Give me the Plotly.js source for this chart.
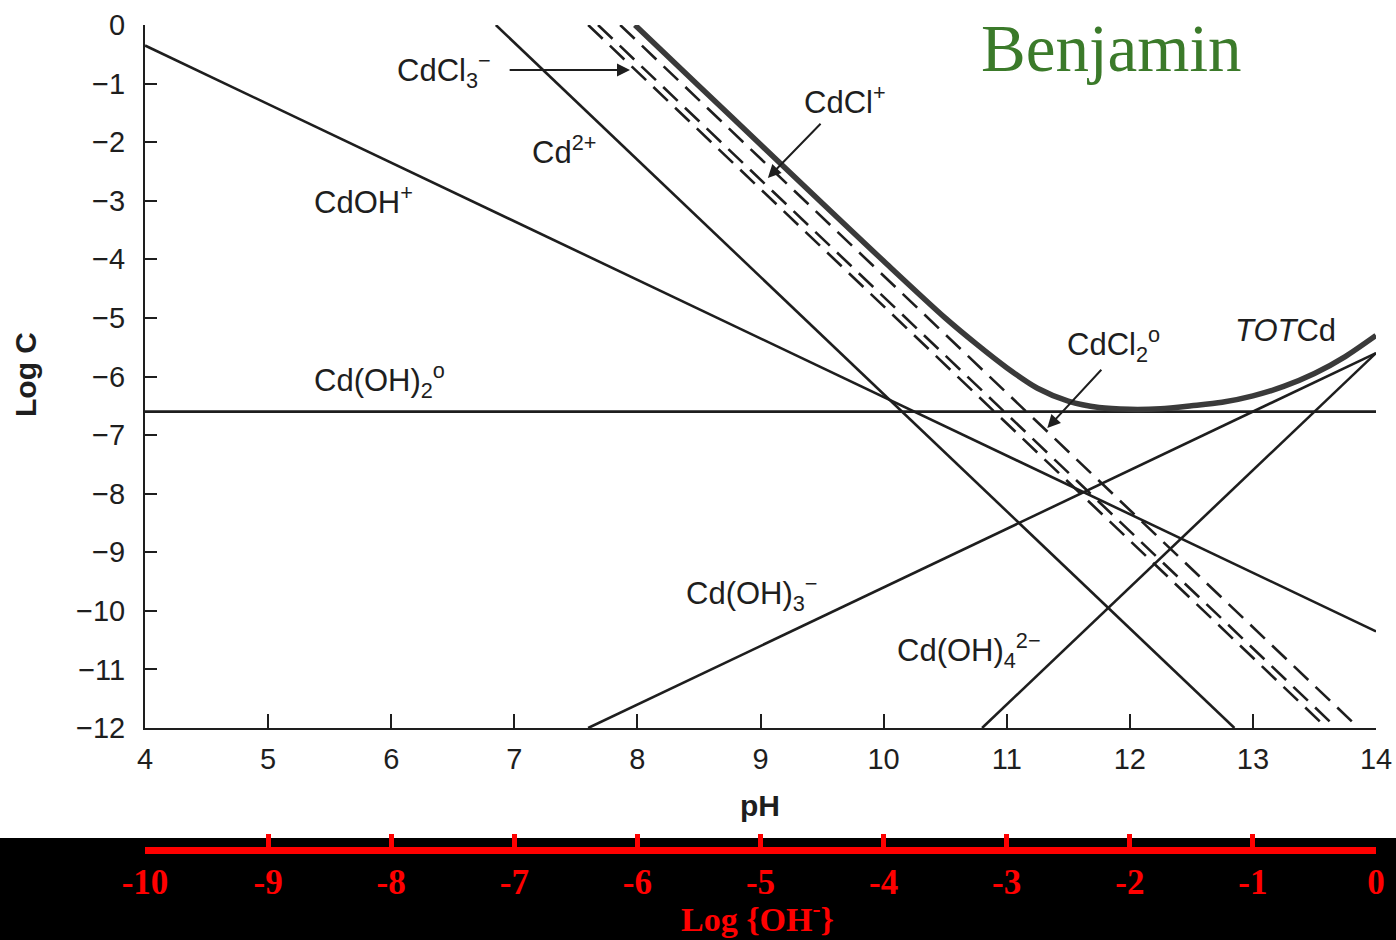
<!DOCTYPE html>
<html>
<head>
<meta charset="utf-8">
<script src="https://cdn.plot.ly/plotly-3.0.1.min.js"></script>
<style>html,body{margin:0;padding:0;background:#fff;}#chart{width:1396px;height:940px;}</style>
</head>
<body>
<div id="chart"></div>
<script>
// ---- axis ticks ----
const pHTicks = [4, 5, 6, 7, 8, 9, 10, 11, 12, 13, 14];
const logCTicks = [0, -1, -2, -3, -4, -5, -6, -7, -8, -9, -10, -11, -12];
const logOHTicks = [-10, -9, -8, -7, -6, -5, -4, -3, -2, -1, 0];
const logOHLabels = ['-10', '-9', '-8', '-7', '-6', '-5', '-4', '-3', '-2', '-1', '0'];

// ---- species lines (pH, log C) ----
const cdOH_pH = [4, 14];        const cdOH_logC = [-0.35, -10.35];
const cd2_pH = [6.85, 12.85];   const cd2_logC = [0, -12];
const cdOH2_pH = [4, 14];       const cdOH2_logC = [-6.6, -6.6];
const cdOH3_pH = [7.6, 14];     const cdOH3_logC = [-12, -5.6];
const cdOH4_pH = [10.8, 14];    const cdOH4_logC = [-12, -5.6];
const cdCl3_pH = [7.6, 13.6];   const cdCl3_logC = [0, -12];
const cdCl2_pH = [7.68, 13.68]; const cdCl2_logC = [0, -12];
const cdCl_pH = [7.86, 13.86];  const cdCl_logC = [0, -12];
const totCd_pH = [7.98, 8.5, 9, 9.5, 10, 10.5, 10.75, 11, 11.25, 11.5, 11.75, 12, 12.25, 12.5, 12.75, 13, 13.25, 13.5, 13.75, 14];
const totCd_logC = [0, -1.04, -2.04, -3.04, -4.03, -5.0, -5.44, -5.85, -6.2, -6.42, -6.53, -6.56, -6.55, -6.5, -6.44, -6.33, -6.17, -5.95, -5.66, -5.3];

const ink = '#1e1e1e';
const solid = {color: ink, width: 2.6};
const dashed = {color: ink, width: 2.6, dash: '20px,10px'};

function tr(x, y, line, name) {
  return {x: x, y: y, mode: 'lines', line: line, name: name, hoverinfo: 'skip', showlegend: false};
}

const traces = [
  tr(cdOH_pH, cdOH_logC, solid, 'CdOH+'),
  tr(cd2_pH, cd2_logC, solid, 'Cd2+'),
  tr(cdOH2_pH, cdOH2_logC, solid, 'Cd(OH)2'),
  tr(cdOH3_pH, cdOH3_logC, solid, 'Cd(OH)3-'),
  tr(cdOH4_pH, cdOH4_logC, solid, 'Cd(OH)4 2-'),
  tr(cdCl3_pH, cdCl3_logC, dashed, 'CdCl3-'),
  tr(cdCl2_pH, cdCl2_logC, dashed, 'CdCl2'),
  tr(cdCl_pH, cdCl_logC, dashed, 'CdCl+'),
  tr(totCd_pH, totCd_logC, {color: '#3a3a3a', width: 5.5, shape: 'spline', smoothing: 0.8}, 'TOT Cd'),
  {x: [logOHTicks[0], logOHTicks[logOHTicks.length - 1]], y: [-6.6, -6.6], xaxis: 'x2', yaxis: 'y',
   mode: 'lines', line: {width: 0, color: 'rgba(0,0,0,0)'}, hoverinfo: 'skip', showlegend: false}
];

const lblFont = {family: 'Liberation Sans, Arial, sans-serif', size: 31, color: ink};
function lbl(text, x, y) {
  return {text: text, x: x, y: y, xref: 'x', yref: 'y', xanchor: 'left', yanchor: 'middle',
          showarrow: false, font: lblFont};
}
function arrow(x0, y0, x1, y1, head) {
  return {text: '', x: x1, y: y1, ax: x0, ay: y0, xref: 'x', yref: 'y', axref: 'x', ayref: 'y',
          showarrow: true, arrowhead: head, arrowsize: 1.3, arrowwidth: 2, arrowcolor: ink};
}

const annotations = [
  lbl('CdCl<sub>3</sub><sup>\u2212</sup>', 6.03, -0.77),
  lbl('Cd<sup>2+</sup>', 7.13, -2.13),
  lbl('CdOH<sup>+</sup>', 5.36, -2.99),
  lbl('Cd(OH)<sub>2</sub><sup>o</sup>', 5.36, -6.06),
  lbl('CdCl<sup>+</sup>', 9.34, -1.28),
  lbl('CdCl<sub>2</sub><sup>o</sup>', 11.47, -5.46),
  lbl('<i>TOT</i>Cd', 12.84, -5.21),
  lbl('Cd(OH)<sub>3</sub><sup>\u2212</sup>', 8.38, -9.70),
  lbl('Cd(OH)<sub>4</sub><sup>2\u2212</sup>', 10.09, -10.67),
  arrow(6.95, -0.77, 7.94, -0.77, 2),
  arrow(9.50, -1.66, 9.06, -2.61, 2),
  arrow(11.78, -5.86, 11.33, -6.88, 2),
  {text: '<b>pH</b>', xref: 'paper', yref: 'paper', x: (760 - 145) / 1231, y: (940 - 805) / 915,
   xanchor: 'center', yanchor: 'middle', showarrow: false,
   font: {family: 'Liberation Sans, Arial, sans-serif', size: 30, color: ink}},
  {text: '<b>Log C</b>', xref: 'paper', yref: 'paper', x: (25 - 145) / 1231, y: (940 - 375) / 915,
   xanchor: 'center', yanchor: 'middle', textangle: -90, showarrow: false,
   font: {family: 'Liberation Sans, Arial, sans-serif', size: 30, color: ink}},
  {text: '<b>Log {OH<sup>-</sup>}</b>', xref: 'paper', yref: 'paper', x: (757 - 145) / 1231, y: (940 - 917) / 915,
   xanchor: 'center', yanchor: 'middle', showarrow: false,
   font: {family: 'Liberation Serif, Times New Roman, serif', size: 34, color: '#ff0000'}},
  {text: 'Benjamin', xref: 'paper', yref: 'paper', x: (979 - 145) / 1231, y: (940 - 48) / 915,
   xanchor: 'left', yanchor: 'middle', showarrow: false,
   font: {family: 'Liberation Serif, Times New Roman, serif', size: 67, color: '#3b7a2a'}}
];

const layout = {
  width: 1396, height: 940,
  margin: {l: 145, r: 20, t: 25, b: 0, pad: 0},
  paper_bgcolor: '#ffffff', plot_bgcolor: '#ffffff',
  showlegend: false,
  xaxis: {
    range: [4, 14], anchor: 'y', showgrid: false, zeroline: false,
    showline: true, linecolor: ink, linewidth: 2,
    ticks: 'inside', ticklen: 14, tickwidth: 2, tickcolor: ink,
    tickvals: pHTicks, ticktext: pHTicks.map(String), ticklabelstandoff: 4,
    tickfont: {family: 'Liberation Sans, Arial, sans-serif', size: 29, color: ink}
  },
  yaxis: {
    range: [-12, 0], domain: [(940 - 728) / 915, 1], showgrid: false, zeroline: false,
    showline: true, linecolor: ink, linewidth: 2,
    ticks: 'inside', ticklen: 12, tickwidth: 2, tickcolor: ink,
    tickvals: logCTicks, ticklabelstandoff: 12,
    tickfont: {family: 'Liberation Sans, Arial, sans-serif', size: 29, color: ink}
  },
  xaxis2: {
    range: [-10, 0], overlaying: 'x', anchor: 'free', position: (940 - 850) / 915, side: 'bottom',
    showgrid: false, zeroline: false,
    showline: true, linecolor: '#ff0000', linewidth: 7,
    ticks: 'inside', ticklen: 13, tickwidth: 5, tickcolor: '#ff0000',
    tickvals: logOHTicks, ticktext: logOHLabels, ticklabelstandoff: -2,
    tickfont: {family: 'Liberation Serif, Times New Roman, serif', size: 35, color: '#ff0000', weight: 'bold'}
  },
  shapes: [
    {type: 'rect', xref: 'paper', yref: 'paper', x0: -0.2, x1: 1.2, y0: -0.1, y1: (940 - 838) / 915,
     fillcolor: '#000000', line: {width: 0}, layer: 'below'}
  ],
  annotations: annotations
};

Plotly.newPlot('chart', traces, layout, {displayModeBar: false, staticPlot: true});
</script>
</body>
</html>
